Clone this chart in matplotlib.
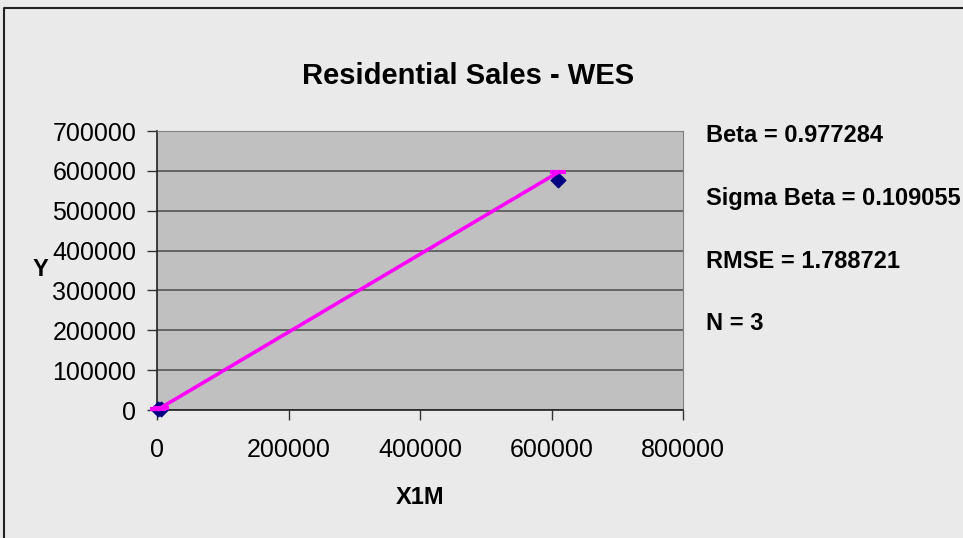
import matplotlib.pyplot as plt
from matplotlib.lines import Line2D

# 資料
x_vals = [2000, 6000, 610000]
y_vals = [1500, 3000, 577000]
beta = 0.977284
stats_lines = ["Beta = 0.977284", "Sigma Beta = 0.109055", "RMSE = 1.788721", "N = 3"]
x_ticks = [0, 200000, 400000, 600000, 800000]
y_ticks = [0, 100000, 200000, 300000, 400000, 500000, 600000, 700000]

plt.rcParams['font.family'] = ['Liberation Sans', 'DejaVu Sans']

fig = plt.figure(figsize=(9.63, 5.38), dpi=100)
fig.patch.set_facecolor('#eaeaea')
# 外框 (只看得到上、左兩邊)
fig.lines.append(Line2D([3.5 / 963, 3.5 / 963, 1.0], [0.0, 1 - 7.5 / 538, 1 - 7.5 / 538],
                        transform=fig.transFigure, color='#222222', linewidth=1.5))

ax = fig.add_axes([157 / 963, 1 - 410 / 538, 526 / 963, 279 / 538])
ax.set_facecolor('#c0c0c0')

# 資料點
ax.scatter(x_vals, y_vals, marker='D', s=55, color='#000080', zorder=3, clip_on=False)
# 擬合線 y = beta * x
fit_y = [beta * v for v in x_vals]
ax.plot(x_vals, fit_y, color='#ff00ff', linewidth=2.6, marker='_', markersize=12,
        markeredgewidth=3, zorder=4, clip_on=False)

ax.set_xlim(0, 800000)
ax.set_ylim(0, 700000)
ax.set_xticks(x_ticks)
ax.set_yticks(y_ticks)
ax.set_xticklabels([str(t) for t in x_ticks])
ax.set_yticklabels([str(t) for t in y_ticks])
ax.tick_params(labelsize=18, length=7, width=1, color='#333333')
ax.tick_params(axis='x', pad=13)
ax.tick_params(axis='y', pad=8)
ax.grid(axis='y', color='#555555', linewidth=1.2)
ax.set_axisbelow(True)

for s in ['top', 'right']:
    ax.spines[s].set_color('#808080')
for s in ['left', 'bottom']:
    ax.spines[s].set_color('#222222')
    ax.spines[s].set_linewidth(1.2)

fig.text(468 / 963, 1 - 76 / 538, "Residential Sales - WES", fontsize=21, fontweight='bold',
         ha='center', va='center')
fig.text(40 / 963, 1 - 270 / 538, "Y", fontsize=17, fontweight='bold', ha='center', va='center')
fig.text(420 / 963, 1 - 497 / 538, "X1M", fontsize=17, fontweight='bold', ha='center', va='center')

for i, line in enumerate(stats_lines):
    fig.text(706 / 963, 1 - (135 + i * 63) / 538, line, fontsize=17, fontweight='bold',
             ha='left', va='center')

fig.savefig("out.png", dpi=100, facecolor=fig.get_facecolor())
